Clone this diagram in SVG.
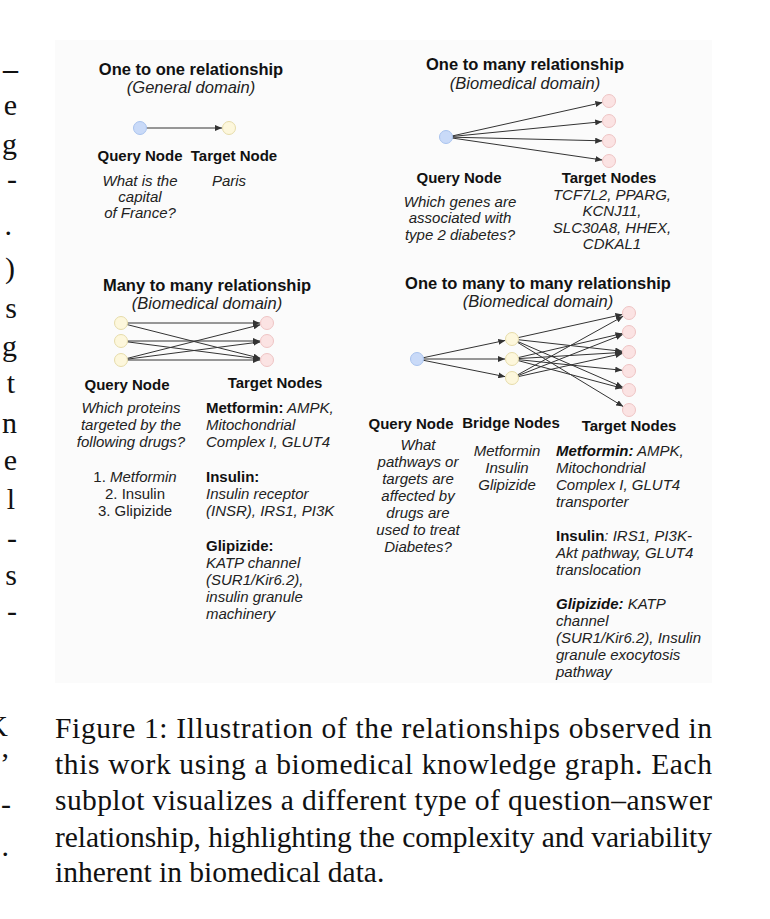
<svg xmlns="http://www.w3.org/2000/svg" width="770" height="919" viewBox="0 0 770 919">
<style>
.t{font-family:"Liberation Sans",Arial,sans-serif;font-size:16.5px;font-weight:bold;fill:#111;text-anchor:middle}
.s{font-family:"Liberation Sans",Arial,sans-serif;font-size:16.5px;font-style:italic;fill:#222;text-anchor:middle}
.h{font-family:"Liberation Sans",Arial,sans-serif;font-size:15px;font-weight:bold;fill:#111;text-anchor:middle}
.i{font-family:"Liberation Sans",Arial,sans-serif;font-size:15px;font-style:italic;fill:#222;text-anchor:middle}
.n{font-family:"Liberation Sans",Arial,sans-serif;font-size:15px;fill:#222;text-anchor:middle}
.l{font-family:"Liberation Sans",Arial,sans-serif;font-size:15px;font-style:italic;fill:#222}
.b{font-weight:bold;font-style:normal;fill:#111}
.bi{font-weight:bold;font-style:italic;fill:#111}
.c{font-family:"Liberation Serif","Times New Roman",serif;font-size:29.5px;fill:#111}
.m{font-family:"Liberation Serif","Times New Roman",serif;font-size:30px;fill:#111;text-anchor:end}
.q{fill:#c9daf8;stroke:#a9c3ee;stroke-width:1}
.y{fill:#fdf7dc;stroke:#e6dcaa;stroke-width:1}
.p{fill:#fbe3e3;stroke:#efc4c4;stroke-width:1}
.e{stroke:#333;stroke-width:1;fill:none;marker-end:url(#ah)}
</style>
<defs>
<marker id="ah" markerWidth="7" markerHeight="6" refX="7" refY="3" orient="auto" markerUnits="userSpaceOnUse"><path d="M0,0 L7,3 L0,6 z" fill="#333"/></marker>
</defs>
<rect x="0" y="0" width="770" height="919" fill="#fff"/>
<rect x="55" y="40" width="657" height="643" fill="#fbfbfb"/>

<g id="margin">
<text class="m" x="18" y="79" font-weight="bold">–</text>
<text class="m" x="17" y="115">e</text>
<text class="m" x="17" y="154">g</text>
<text class="m" x="17" y="189">-</text>
<text class="m" x="12" y="235">.</text>
<text class="m" x="15" y="278">)</text>
<text class="m" x="17" y="318">s</text>
<text class="m" x="17" y="356">g</text>
<text class="m" x="15" y="393">t</text>
<text class="m" x="17" y="433">n</text>
<text class="m" x="17" y="470">e</text>
<text class="m" x="15" y="509">l</text>
<text class="m" x="17" y="548">-</text>
<text class="m" x="17" y="585">s</text>
<text class="m" x="17" y="621">-</text>
<text class="m" x="8" y="736">K</text>
<text class="m" x="10" y="773">’</text>
<text class="m" x="11" y="814">-</text>
<text class="m" x="9" y="856">.</text>
</g>

<g id="caption">
<text class="c" x="55" y="738" textLength="657" lengthAdjust="spacing">Figure 1: Illustration of the relationships observed in</text>
<text class="c" x="55" y="774" textLength="657" lengthAdjust="spacing">this work using a biomedical knowledge graph. Each</text>
<text class="c" x="55" y="810" textLength="657" lengthAdjust="spacing">subplot visualizes a different type of question–answer</text>
<text class="c" x="55" y="847" textLength="657" lengthAdjust="spacing">relationship, highlighting the complexity and variability</text>
<text class="c" x="55" y="882">inherent in biomedical data.</text>
</g>

<g id="connectors">
<line class="e" x1="146" y1="128" x2="222" y2="128"/>

<line class="e" x1="452" y1="136" x2="602.4" y2="102.5"/>
<line class="e" x1="452" y1="136.5" x2="602.2" y2="121.7"/>
<line class="e" x1="452" y1="137.2" x2="602.2" y2="140.8"/>
<line class="e" x1="452" y1="138" x2="602.3" y2="160"/>

<line class="e" x1="127" y1="323" x2="260" y2="323"/>
<line class="e" x1="126.8" y1="324.5" x2="260.4" y2="358.3"/>
<line class="e" x1="127" y1="341" x2="260" y2="341"/>
<line class="e" x1="127" y1="341.8" x2="260.3" y2="359.1"/>
<line class="e" x1="126.8" y1="358.5" x2="260.4" y2="324.7"/>
<line class="e" x1="127" y1="359.2" x2="260.3" y2="341.9"/>
<line class="e" x1="127" y1="360" x2="260" y2="360"/>

<line class="e" x1="422.9" y1="357.8" x2="505.3" y2="340.4"/>
<line class="e" x1="423" y1="359" x2="505" y2="359"/>
<line class="e" x1="422.9" y1="360.2" x2="505.3" y2="376.7"/>

<line class="e" x1="517.9" y1="337.7" x2="622.4" y2="314.5"/>
<line class="e" x1="518" y1="339.7" x2="622.2" y2="351.3"/>
<line class="e" x1="517.5" y1="341.4" x2="622.8" y2="387.3"/>
<line class="e" x1="517.1" y1="342.1" x2="623.2" y2="406.5"/>
<line class="e" x1="517.8" y1="357.7" x2="622.4" y2="333.5"/>
<line class="e" x1="518" y1="358.6" x2="622.2" y2="352.4"/>
<line class="e" x1="518" y1="359.6" x2="622.2" y2="370.3"/>
<line class="e" x1="517.8" y1="360.5" x2="622.4" y2="388.3"/>
<line class="e" x1="517.2" y1="375.1" x2="623.1" y2="316.3"/>
<line class="e" x1="517.6" y1="375.8" x2="622.7" y2="334.5"/>
<line class="e" x1="517.9" y1="376.7" x2="622.4" y2="353.5"/>
</g>

<g id="panel-one-to-one">
<text class="t" x="191" y="75">One to one relationship</text>
<text class="s" x="191" y="93">(General domain)</text>
<g id="q1"><circle class="q" cx="140" cy="128" r="6.5"/></g>
<g id="t1"><circle class="y" cx="229" cy="128" r="6.5"/></g>
<text class="h" x="140" y="161">Query Node</text>
<text class="h" x="234" y="161">Target Node</text>
<text class="i" x="140" y="186">What is the</text>
<text class="i" x="140" y="202">capital</text>
<text class="i" x="140" y="218">of France?</text>
<text class="i" x="229" y="186">Paris</text>
</g>

<g id="panel-one-to-many">
<text class="t" x="525" y="70">One to many relationship</text>
<text class="s" x="525" y="89">(Biomedical domain)</text>
<g id="q2"><circle class="q" cx="446" cy="137" r="6.5"/></g>
<g id="t2a"><circle class="p" cx="609" cy="101" r="6.5"/></g>
<g id="t2b"><circle class="p" cx="609" cy="121" r="6.5"/></g>
<g id="t2c"><circle class="p" cx="609" cy="141" r="6.5"/></g>
<g id="t2d"><circle class="p" cx="609" cy="161" r="6.5"/></g>
<text class="h" x="459" y="183">Query Node</text>
<text class="h" x="609" y="183">Target Nodes</text>
<text class="i" x="460" y="207">Which genes are</text>
<text class="i" x="460" y="223">associated with</text>
<text class="i" x="460" y="240">type 2 diabetes?</text>
<text class="i" x="612" y="200">TCF7L2, PPARG,</text>
<text class="i" x="612" y="216">KCNJ11,</text>
<text class="i" x="612" y="233">SLC30A8, HHEX,</text>
<text class="i" x="612" y="249">CDKAL1</text>
</g>

<g id="panel-many-to-many">
<text class="t" x="207" y="291">Many to many relationship</text>
<text class="s" x="207" y="309">(Biomedical domain)</text>
<g id="m-l1"><circle class="y" cx="121" cy="323" r="6.5"/></g>
<g id="m-l2"><circle class="y" cx="121" cy="341" r="6.5"/></g>
<g id="m-l3"><circle class="y" cx="121" cy="360" r="6.5"/></g>
<g id="m-r1"><circle class="p" cx="267" cy="323" r="6.5"/></g>
<g id="m-r2"><circle class="p" cx="267" cy="341" r="6.5"/></g>
<g id="m-r3"><circle class="p" cx="267" cy="360" r="6.5"/></g>
<text class="h" x="127" y="390">Query Node</text>
<text class="h" x="275" y="388">Target Nodes</text>
<text class="i" x="131" y="413">Which proteins</text>
<text class="i" x="131" y="430">targeted by the</text>
<text class="i" x="131" y="447">following drugs?</text>
<text class="n" x="135" y="482">1. <tspan font-style="italic">Metformin</tspan></text>
<text class="n" x="135" y="499">2. Insulin</text>
<text class="n" x="135" y="516">3. Glipizide</text>
<text class="l" x="206" y="413"><tspan class="b">Metformin:</tspan> AMPK,</text>
<text class="l" x="206" y="430">Mitochondrial</text>
<text class="l" x="206" y="447">Complex I, GLUT4</text>
<text class="l" x="206" y="482"><tspan class="b">Insulin:</tspan></text>
<text class="l" x="206" y="499">Insulin receptor</text>
<text class="l" x="206" y="516">(INSR), IRS1, PI3K</text>
<text class="l" x="206" y="551"><tspan class="b">Glipizide:</tspan></text>
<text class="l" x="206" y="568">KATP channel</text>
<text class="l" x="206" y="585">(SUR1/Kir6.2),</text>
<text class="l" x="206" y="602">insulin granule</text>
<text class="l" x="206" y="619">machinery</text>
</g>

<g id="panel-one-to-many-to-many">
<text class="t" x="538" y="289">One to many to many relationship</text>
<text class="s" x="538" y="307">(Biomedical domain)</text>
<g id="x-q"><circle class="q" cx="417" cy="359" r="6.5"/></g>
<g id="x-b1"><circle class="y" cx="512" cy="339" r="6.5"/></g>
<g id="x-b2"><circle class="y" cx="512" cy="359" r="6.5"/></g>
<g id="x-b3"><circle class="y" cx="512" cy="378" r="6.5"/></g>
<g id="x-t1"><circle class="p" cx="629" cy="313" r="6.5"/></g>
<g id="x-t2"><circle class="p" cx="629" cy="332" r="6.5"/></g>
<g id="x-t3"><circle class="p" cx="629" cy="352" r="6.5"/></g>
<g id="x-t4"><circle class="p" cx="629" cy="371" r="6.5"/></g>
<g id="x-t5"><circle class="p" cx="629" cy="390" r="6.5"/></g>
<g id="x-t6"><circle class="p" cx="629" cy="410" r="6.5"/></g>
<text class="h" x="411" y="429">Query Node</text>
<text class="h" x="511" y="428">Bridge Nodes</text>
<text class="h" x="629" y="431">Target Nodes</text>
<text class="i" x="418" y="450">What</text>
<text class="i" x="418" y="467">pathways or</text>
<text class="i" x="418" y="484">targets are</text>
<text class="i" x="418" y="501">affected by</text>
<text class="i" x="418" y="518">drugs are</text>
<text class="i" x="418" y="535">used to treat</text>
<text class="i" x="418" y="552">Diabetes?</text>
<text class="i" x="507" y="456">Metformin</text>
<text class="i" x="507" y="473">Insulin</text>
<text class="i" x="507" y="490">Glipizide</text>
<text class="l" x="556" y="456"><tspan class="bi">Metformin:</tspan> AMPK,</text>
<text class="l" x="556" y="473">Mitochondrial</text>
<text class="l" x="556" y="490">Complex I, GLUT4</text>
<text class="l" x="556" y="507">transporter</text>
<text class="l" x="556" y="541"><tspan class="b">Insulin</tspan>: IRS1, PI3K-</text>
<text class="l" x="556" y="558">Akt pathway, GLUT4</text>
<text class="l" x="556" y="575">translocation</text>
<text class="l" x="556" y="609"><tspan class="bi">Glipizide:</tspan> KATP</text>
<text class="l" x="556" y="626">channel</text>
<text class="l" x="556" y="643">(SUR1/Kir6.2), Insulin</text>
<text class="l" x="556" y="660">granule exocytosis</text>
<text class="l" x="556" y="677">pathway</text>
</g>
</svg>
